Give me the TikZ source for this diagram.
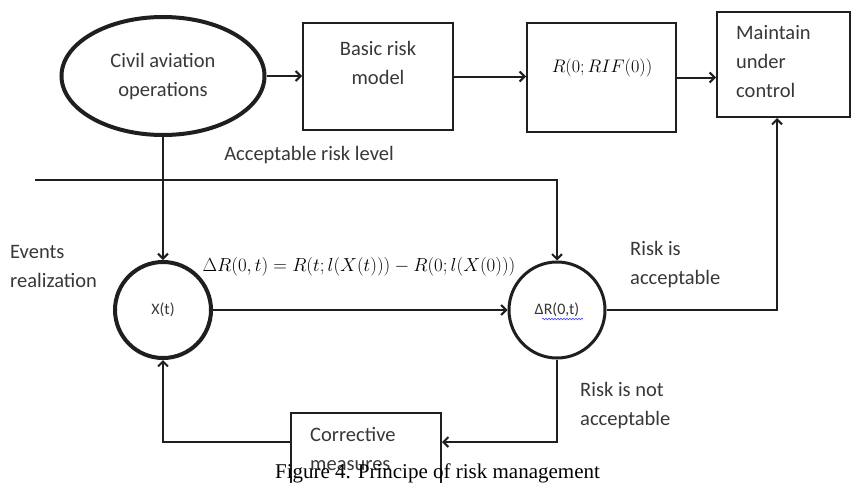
\documentclass[tikz,border=0pt]{standalone}
\usepackage{graphicx}
\usepackage{fontspec}
\setmainfont{Carlito}
\newfontfamily\capfont{Liberation Serif}
\usetikzlibrary{arrows.meta,shapes.geometric,calc,decorations.pathmorphing}

\begin{document}
\begin{tikzpicture}[x=1pt,y=-1pt,
  every node/.style={text=black!78},
  lbl/.style={font=\fontsize{20.5}{29}\selectfont, align=left, inner sep=0pt},
  smalltxt/.style={font=\fontsize{16}{18}\selectfont, inner sep=0pt},
  mathtxt/.style={font=\fontsize{17.28}{20}\selectfont, inner sep=0pt, text=black},
  blockbox/.style={draw=black!88, line width=2pt},
  flow/.style={draw=black!88, line width=2pt, -{Straight Barb[length=5pt,width=10pt]}},
  plain/.style={draw=black!88, line width=2pt}]
\clip (0,0) rectangle (853,482);
\fill[white] (0,0) rectangle (853,482);

% blocks
\node[blockbox, ellipse, line width=4pt, minimum width=203pt, minimum height=118pt] (civ) at (163,76) {};
\node[blockbox, minimum width=150pt, minimum height=107pt] (basic) at (378,76.5) {};
\node[blockbox, minimum width=149pt, minimum height=109pt] (rbox) at (601.5,77.5) {};
\node[blockbox, minimum width=133pt, minimum height=105pt] (maint) at (783.5,64.5) {};
\node[blockbox, circle, line width=4pt, minimum size=96pt] (xt) at (163,310) {};
\node[blockbox, circle, line width=3pt, minimum size=96pt] (dr) at (557,310) {};
\node[blockbox, minimum width=150pt, minimum height=107pt] (corr) at (366,466.5) {};

% texts
\node[lbl, align=center] (civtxt) at (163,77) {Civil aviation\\operations};
\node[lbl, align=center] (basictxt) at (378,63) {Basic risk\\model};
\node[mathtxt] (rtxt) at (602,68) {\scalebox{1.05}{$R(0;RIF(0))$}};
\node[lbl, anchor=west] (mtxt) at (736,62) {Maintain\\under\\control};
\node[lbl] (acc) at (309,155) {Acceptable risk level};
\node[lbl, anchor=west] (ev) at (10,266) {Events\\realization};
\node[mathtxt] (formula) at (359,267) {\scalebox{1.09}{$\Delta R(0,t)=R(t;l(X(t)))-R(0;l(X(0)))$}};
\node[smalltxt] (xttxt) at (163,310) {X(t)};
\node[smalltxt] (drtxt) at (557,310) {ΔR(0,t)};
\draw[blue!75!white, line width=0.6pt, decorate, decoration={snake, amplitude=0.8pt, segment length=3pt}] (542,319) -- (583,319);
\node[lbl, anchor=west] (ok) at (630,265) {Risk is\\acceptable};
\node[lbl, anchor=west] (nok) at (580,406) {Risk is not\\acceptable};
\node[lbl, anchor=west] (corrtxt) at (310,449) {Corrective\\measures};

% connectors
\draw[flow] (civ.east) -- (civ.east -| basic.west);
\draw[flow] (basic.east) -- (basic.east -| rbox.west);
\draw[flow] (rbox.east) -- (rbox.east -| maint.west);
\draw[flow] (civ.south) -- (xt.north);
\coordinate (lvl) at (35,180);
\draw[flow] (lvl) -| (dr.north);
\draw[flow] (xt.east) -- (dr.west);
\coordinate (okin) at ($(maint.south)+(-6.5,0)$);
\draw[flow] (dr.east) -| (okin);
\coordinate (cin) at ($(corr.north east)+(0,30)$);
\draw[flow] (dr.south) |- (cin);
\coordinate (cout) at ($(corr.north west)+(0,30)$);
\draw[flow] (cout) -| (xt.south);

% caption
\node[font=\capfont\fontsize{21}{24}\selectfont, anchor=base, text=black, inner sep=0pt] (cap) at (437.5,478) {Figure 4. Principe of risk management};
\end{tikzpicture}
\end{document}
